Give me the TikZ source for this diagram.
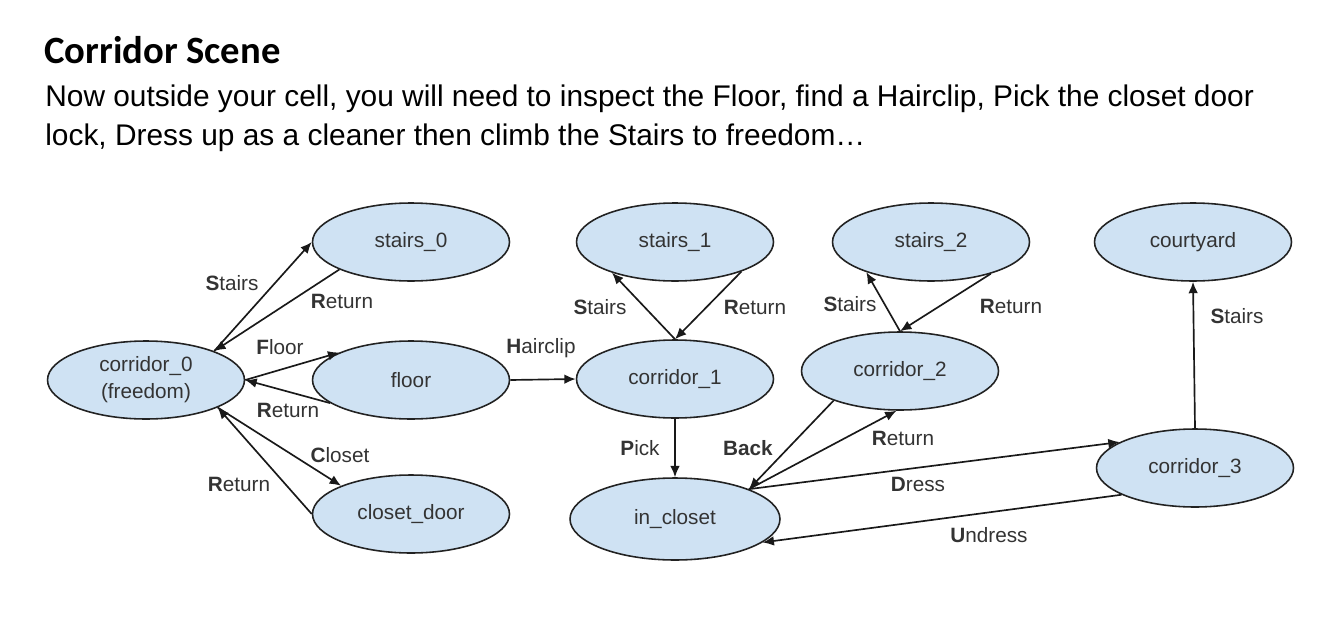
\documentclass[tikz,border=0pt]{standalone}
\usepackage{fontspec}
\setmainfont{Liberation Sans}
\newfontfamily\headfont{Carlito}
\usetikzlibrary{arrows.meta, shapes.geometric}
\definecolor{StateBlue}{HTML}{CFE2F3}
\definecolor{StateLine}{HTML}{222222}

\begin{document}
\begin{tikzpicture}[x=0.02cm, y=-0.02cm, >={Latex[length=6.5pt, width=5.5pt]},
    state/.style={draw=StateLine, fill=StateBlue, ellipse, line width=0.9pt,
                  minimum width=3.94cm, minimum height=1.56cm, inner sep=0pt,
                  font=\fontsize{11.8}{15.4}\selectfont, text=black!80, align=center},
    link/.style={->, line width=0.95pt, black!90},
    lbl/.style={font=\fontsize{11.8}{14}\selectfont, text=black!80, inner sep=0pt}]
  \useasboundingbox (0,0) rectangle (1328,632);
  % heading and intro text
  \node[anchor=base west, inner sep=0pt, font=\headfont\bfseries\fontsize{22}{26}\selectfont]
    (title) at (44,63) {Corridor Scene};
  \node[anchor=base west, inner sep=0pt, font=\fontsize{17}{21.6}\selectfont] (intro1) at (45,106)
    {Now outside your cell, you will need to inspect the Floor, find a Hairclip, Pick the closet door};
  \node[anchor=base west, inner sep=0pt, font=\fontsize{17}{21.6}\selectfont] (intro2) at (45,145)
    {lock, Dress up as a cleaner then climb the Stairs to freedom…};
  % states
  \node[state] (cor0) at (146,380) {corridor\_0\\(freedom)};
  \node[state] (st0) at (411,242) {stairs\_0};
  \node[state] (flr) at (411,380) {floor};
  \node[state] (door) at (411,514) {closet\_door};
  \node[state] (st1) at (675,242) {stairs\_1};
  \node[state] (cor1) at (675,379) {corridor\_1};
  \node[state, minimum width=4.2cm, minimum height=1.64cm] (incl) at (675,519) {in\_closet};
  \node[state] (st2) at (931,242) {stairs\_2};
  \node[state] (cor2) at (900,371) {corridor\_2};
  \node[state] (yard) at (1193,242) {courtyard};
  \node[state] (cor3) at (1195,468) {corridor\_3};
  % transitions
  \draw[link] (cor0.23) -- (st0.west);
  \draw[link] (st0.201) -- (cor0.23);
  \draw[link] (cor0.east) -- (flr.159);
  \draw[link] (flr.196) -- (cor0.east);
  \draw[link] (cor0.-21) -- (door.158);
  \draw[link] (door.west) -- (cor0.-21);
  \draw[link] (flr.east) -- (cor1.west);
  \draw[link] (cor1.north) -- (st1.206);
  \draw[link] (st1.-24) -- (cor1.north);
  \draw[link] (cor2.north) -- (st2.205);
  \draw[link] (st2.-28) -- (cor2.north);
  \draw[link] (cor1.south) -- (incl.north);
  \draw[link] (cor2.204) -- (incl.22);
  \draw[link] (incl.22) -- (cor2.265);
  \draw[link] (incl.22) -- (cor3.161);
  \draw[link] (cor3.200) -- (incl.-15);
  \draw[link] (cor3.north) -- (yard.south);
  % transition labels
  \node[lbl] (tStairs0) at (232,283) {\textbf{S}tairs};
  \node[lbl] (tRet0) at (342,301) {\textbf{R}eturn};
  \node[lbl] (tFloor) at (280,347) {\textbf{F}loor};
  \node[lbl] (tRetF) at (288,410) {\textbf{R}eturn};
  \node[lbl] (tCloset) at (340,455) {\textbf{C}loset};
  \node[lbl] (tRetD) at (239,484) {\textbf{R}eturn};
  \node[lbl] (tHair) at (541,348) {\textbf{H}airclip};
  \node[lbl] (tStairs1) at (600,307) {\textbf{S}tairs};
  \node[lbl] (tRet1) at (755,307) {\textbf{R}eturn};
  \node[lbl] (tStairs2) at (850,304) {\textbf{S}tairs};
  \node[lbl] (tRet2) at (1011,306) {\textbf{R}eturn};
  \node[lbl] (tStairs3) at (1237,316) {\textbf{S}tairs};
  \node[lbl] (tPick) at (640,448) {\textbf{P}ick};
  \node[lbl] (tBack) at (748,448) {\textbf{Back}};
  \node[lbl] (tRetC) at (903,438) {\textbf{R}eturn};
  \node[lbl] (tDress) at (918,484) {\textbf{D}ress};
  \node[lbl] (tUndress) at (989,535) {\textbf{U}ndress};
\end{tikzpicture}
\end{document}
